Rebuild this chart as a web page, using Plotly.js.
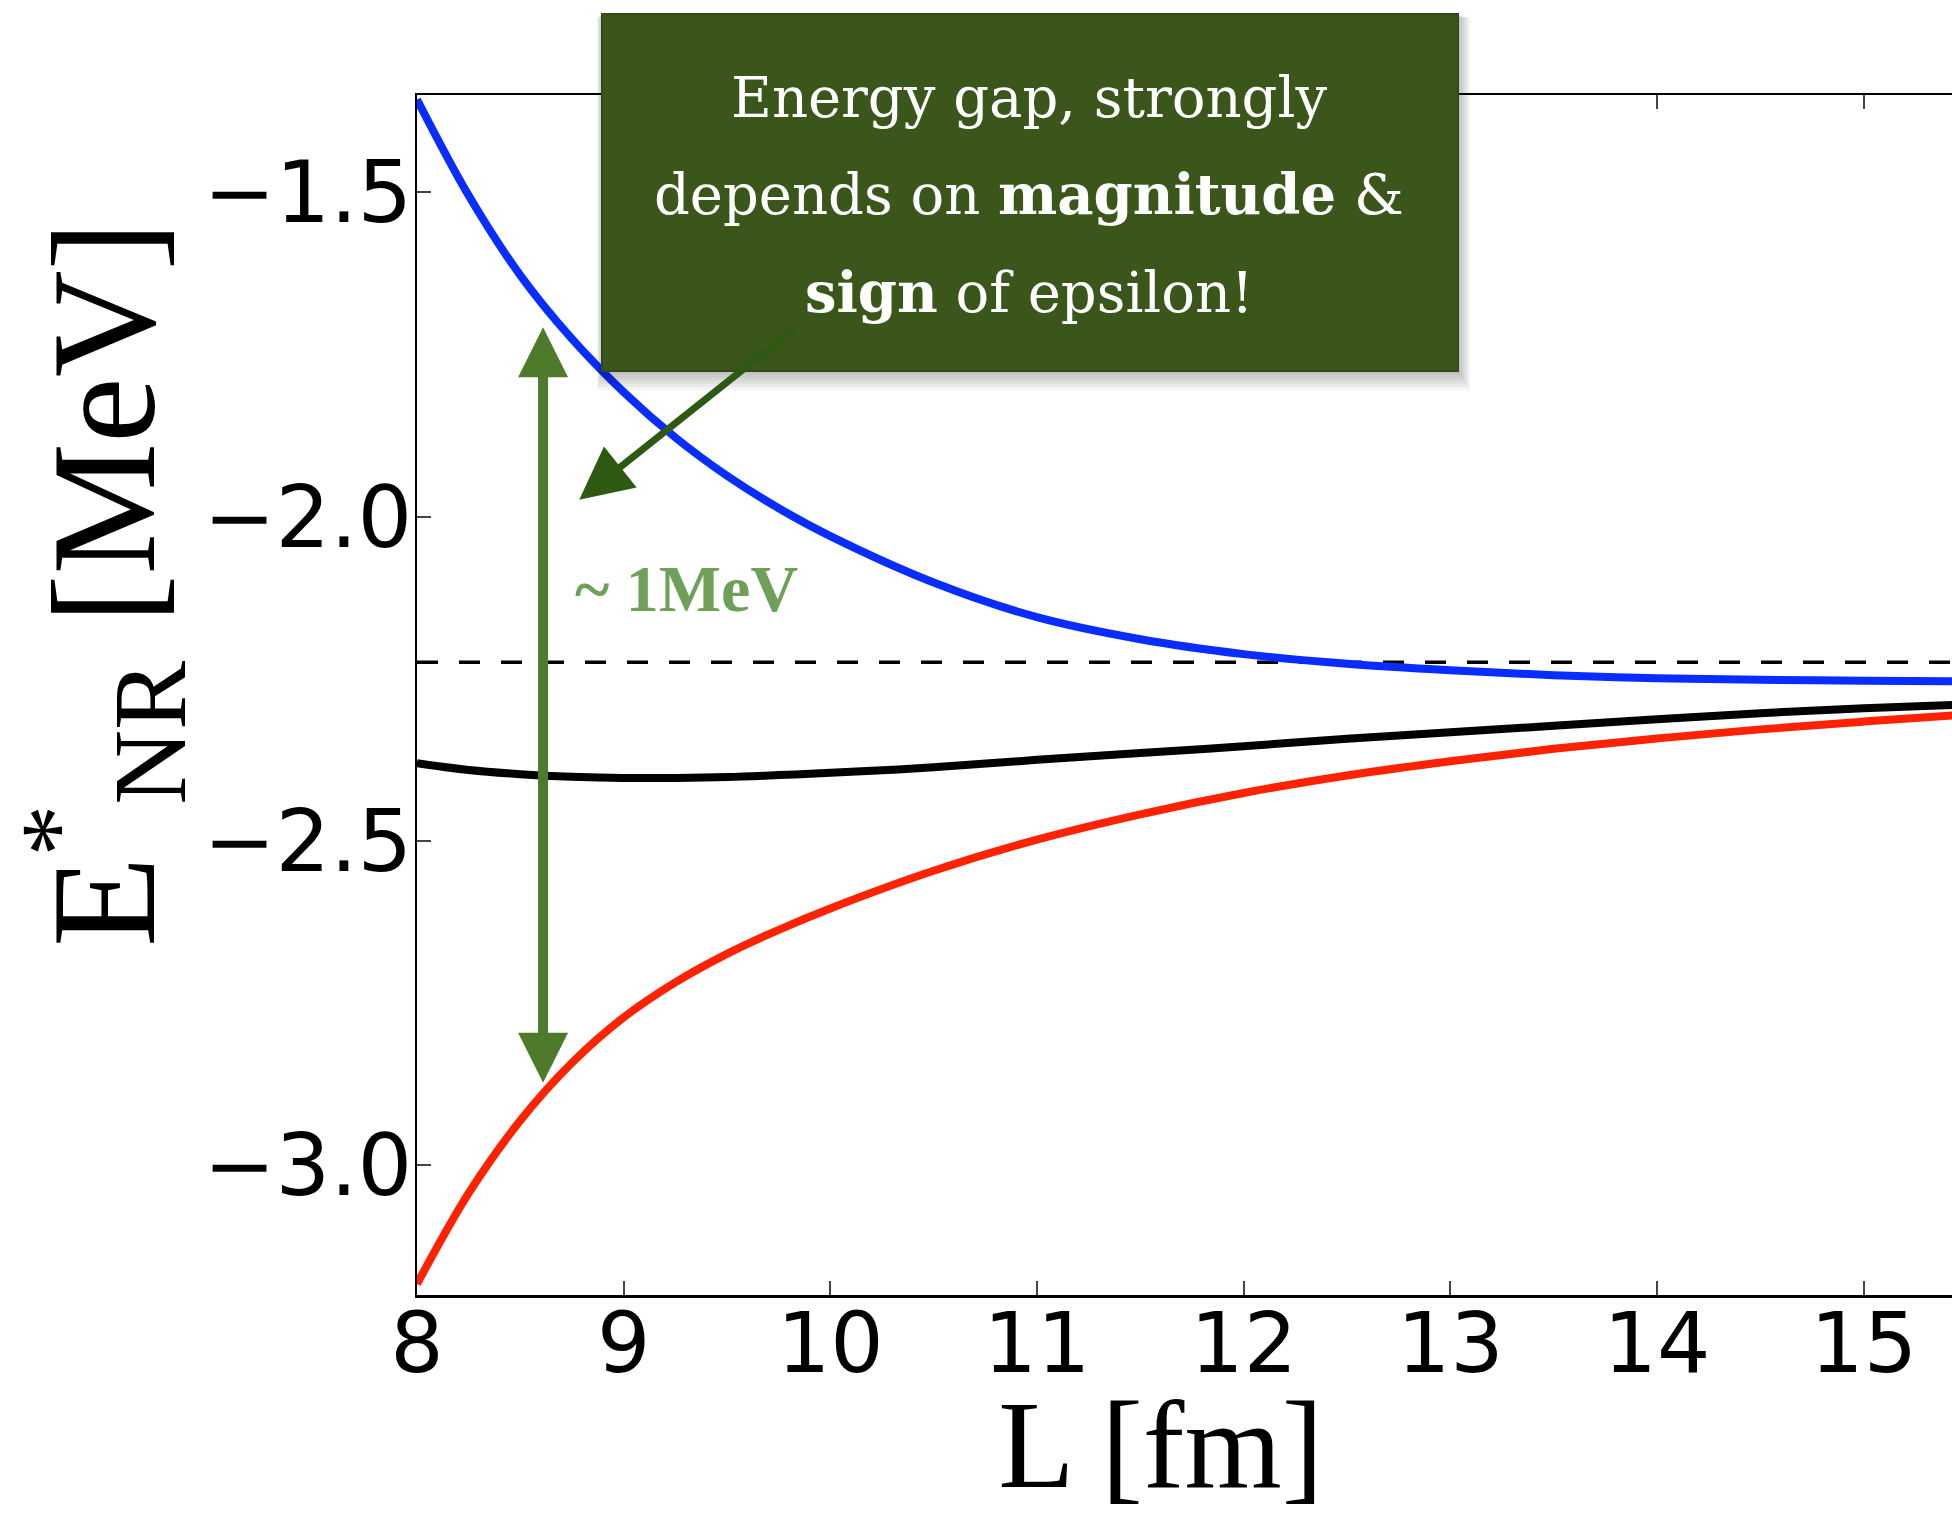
<!DOCTYPE html>
<html>
<head>
<meta charset="utf-8">
<script src="https://cdn.plot.ly/plotly-3.0.1.min.js"></script>
<style>
html,body{margin:0;padding:0;overflow:hidden;background:#ffffff;width:1952px;height:1514px;}
#chart{width:1975px;height:1514px;}
</style>
</head>
<body>
<div id="chart"></div>
<script>
// ---- data ----
const L      = [8.0, 8.25, 8.5, 8.75, 9.0, 9.25, 9.5, 9.75, 10.0, 10.5, 11.0, 11.5, 12.0, 12.5, 13.0, 13.5, 14.0, 14.5, 15.0, 15.5];
const blueE  = [-1.357, -1.505, -1.628, -1.726, -1.808, -1.878, -1.937, -1.987, -2.030, -2.1015, -2.155, -2.189, -2.212, -2.227, -2.237, -2.2445, -2.249, -2.2515, -2.253, -2.254];
const blackE = [-2.380, -2.3905, -2.397, -2.401, -2.403, -2.4028, -2.4015, -2.3985, -2.395, -2.3865, -2.375, -2.3645, -2.354, -2.3425, -2.3325, -2.3225, -2.3125, -2.303, -2.2955, -2.2895];
const redE   = [-3.183, -3.043, -2.931, -2.842, -2.772, -2.718, -2.674, -2.637, -2.604, -2.546, -2.498, -2.459, -2.426, -2.399, -2.377, -2.358, -2.342, -2.328, -2.316, -2.305];

const deuteronL = [8.0, 15.5];
const deuteronE = [-2.2246, -2.2246];

const xTicks = [8, 9, 10, 11, 12, 13, 14, 15];
const yTicks = [-3.0, -2.5, -2.0, -1.5];

const boxLines = [
  'Energy gap, strongly',
  'depends on <b>magnitude</b> &amp;',
  '<b>sign</b> of epsilon!'
];
const gapLabel = '~ 1MeV';
const gapTop = -1.708, gapBottom = -2.875, gapL = 8.61;      // double arrow tips
const pointerTip = [8.785, -1.974], pointerTail = [9.830, -1.709];

// ---- geometry helpers (layout only) ----
const W = 1975, H = 1514;
const M = {l: 417, r: 8, t: 95, b: 219};
const PW = W - M.l - M.r, PH = H - M.t - M.b;
const px = X => (X - M.l) / PW;          // pixel -> paper x
const py = Y => (H - M.b - Y) / PH;      // pixel -> paper y

const traces = [
  {x: deuteronL, y: deuteronE, mode: 'lines', line: {color: '#000000', width: 3.4, dash: '21px,21px'}, hoverinfo: 'skip'},
  {x: L, y: blueE, mode: 'lines', line: {color: '#0a2dff', width: 8, shape: 'spline', smoothing: 1}},
  {x: L, y: blackE, mode: 'lines', line: {color: '#000000', width: 8, shape: 'spline', smoothing: 1}},
  {x: L, y: redE, mode: 'lines', line: {color: '#ff2200', width: 8, shape: 'spline', smoothing: 1}}
];

// box with soft shadow
const box = {x0: 602, x1: 1458, y0: 14, y1: 371};
const shapes = [];
for (let i = 6; i >= 1; i--) {
  shapes.push({type: 'rect', xref: 'paper', yref: 'paper', layer: 'above',
    x0: px(box.x0 - i * 0.8), x1: px(box.x1 + i * 2.0),
    y0: py(box.y1 + i * 3.2), y1: py(box.y0 + i * 0.6),
    fillcolor: 'rgba(0,0,0,0.045)', line: {width: 0}});
}
shapes.push({type: 'rect', xref: 'paper', yref: 'paper', layer: 'above',
  x0: px(box.x0), x1: px(box.x1), y0: py(box.y1), y1: py(box.y0),
  fillcolor: '#3b561b', line: {color: '#33491a', width: 2}});

const boxFont = {family: 'DejaVu Serif', size: 56, color: '#ffffff'};
const lineBaselines = [117, 213, 311];
const annotations = lineBaselines.map((b, i) => ({
  xref: 'paper', yref: 'paper', x: px(1029), y: py(b - 19), xanchor: 'center', yanchor: 'middle',
  text: boxLines[i], showarrow: false, font: boxFont
}));

annotations.push({
  xref: 'paper', yref: 'paper', x: px(573), y: py(611.7 - 23), xanchor: 'left', yanchor: 'middle',
  text: '<b>' + gapLabel + '</b>', showarrow: false,
  font: {family: 'Liberation Serif', size: 66, color: '#6fa059'}
});

// double arrow (~1 MeV gap)
annotations.push({
  x: gapL, y: gapTop, xref: 'x', yref: 'y',
  ax: gapL, ay: gapBottom, axref: 'x', ayref: 'y',
  text: '', showarrow: true, arrowside: 'end+start',
  arrowhead: 2, startarrowhead: 2, arrowsize: 1.0, startarrowsize: 1.0,
  arrowwidth: 10, arrowcolor: '#4e7a2b'
});

// pointer arrow from the box
annotations.push({
  x: pointerTip[0], y: pointerTip[1], xref: 'x', yref: 'y',
  ax: pointerTail[0], ay: pointerTail[1], axref: 'x', ayref: 'y',
  text: '', showarrow: true, arrowhead: 2, arrowsize: 1.5, arrowwidth: 7, arrowcolor: '#2d5913'
});

const layout = {
  width: W, height: H,
  margin: M,
  paper_bgcolor: '#ffffff', plot_bgcolor: '#ffffff',
  showlegend: false,
  xaxis: {
    range: [8, 15.5], tickvals: xTicks, ticktext: xTicks.map(String),
    ticks: 'inside', ticklen: 14, tickwidth: 2, tickcolor: '#444',
    showline: true, linecolor: '#000', linewidth: 2.5, mirror: 'ticks',
    showgrid: false, zeroline: false,
    tickfont: {family: 'DejaVu Sans', size: 84, color: '#000000'}, ticklabelstandoff: -26,
    title: {text: 'L [fm]&nbsp;&nbsp;', font: {family: 'Liberation Serif', size: 125, color: '#000'}, standoff: 44}
  },
  yaxis: {
    range: [-3.2, -1.35], tickvals: yTicks, ticktext: yTicks.map(v => '\u2212' + Math.abs(v).toFixed(1)),
    ticks: 'inside', ticklen: 14, tickwidth: 2, tickcolor: '#444',
    showline: true, linecolor: '#000', linewidth: 2.5, mirror: 'ticks',
    showgrid: false, zeroline: false,
    tickfont: {family: 'DejaVu Sans', size: 86, color: '#000000'}, ticklabelstandoff: -15,
    title: {text: '&nbsp;&nbsp;&nbsp;&nbsp;&nbsp;&nbsp;E<sup>*</sup><sub>NR</sub> [MeV]', font: {family: 'Liberation Serif', size: 148, color: '#000'}, standoff: 100}
  },
  shapes: shapes,
  annotations: annotations
};

Plotly.newPlot('chart', traces, layout, {staticPlot: true, displayModeBar: false});
</script>
</body>
</html>
